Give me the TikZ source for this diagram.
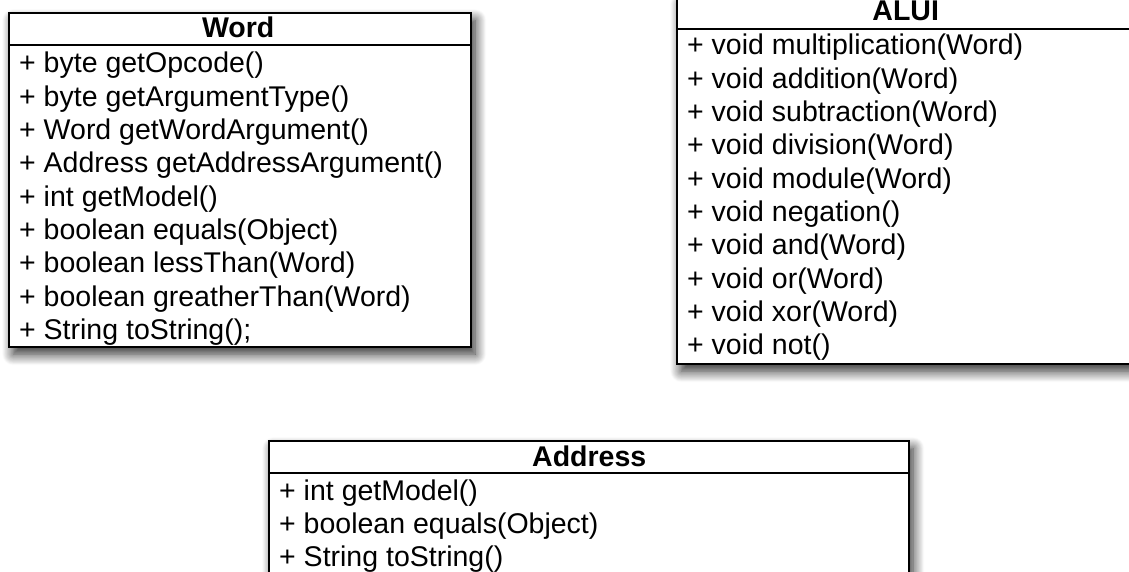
\documentclass[tikz,border=0pt]{standalone}
\usepackage{fontspec}
\setmainfont{Liberation Sans}
\usetikzlibrary{shadows.blur,calc}

\tikzset{
  umlbox/.style={draw=black, line width=2.4pt, fill=white, rectangle, inner sep=0pt,
    anchor=north west,
    blur shadow={shadow xshift=4pt, shadow yshift=-7pt, shadow blur radius=11pt,
      shadow blur steps=14, shadow opacity=85}},
  sepline/.style={draw=black, line width=2.2pt},
  headtext/.style={font=\fontsize{28.5}{33}\selectfont\bfseries, anchor=base, inner sep=0pt},
  membertext/.style={font=\fontsize{28.5}{33}\selectfont, anchor=base west, inner sep=0pt},
}

\begin{document}
\begin{tikzpicture}[x=1pt,y=-1pt]
\useasboundingbox (0,0) rectangle (1129,572);

% ---------- class Word ----------
\node[umlbox, minimum width=462pt, minimum height=334pt] (word) at (8,12) {};
\draw[sepline] ($(word.north west)+(0,33)$) -- ($(word.north east)+(0,33)$);
\node[headtext] (wordhead) at ($(word.north)+(-2,26)$) {Word};
\foreach \t [count=\i] in {
  + byte getOpcode(),
  + byte getArgumentType(),
  + Word getWordArgument(),
  + Address getAddressArgument(),
  + int getModel(),
  + boolean equals(Object),
  + boolean lessThan(Word),
  + boolean greatherThan(Word),
  + String toString();}
  \node[membertext] (word-\i) at ($(word.north west)+(11,{61+(\i-1)*33.3})$) {\t};

% ---------- class ALUI ----------
\node[umlbox, minimum width=459pt, minimum height=367pt] (alui) at (676,-4) {};
\draw[sepline] ($(alui.north west)+(0,33)$) -- ($(alui.north east)+(0,33)$);
\node[headtext] (aluihead) at ($(alui.north)+(-1,25)$) {ALUI};
\foreach \t [count=\i] in {
  + void multiplication(Word),
  + void addition(Word),
  + void subtraction(Word),
  + void division(Word),
  + void module(Word),
  + void negation(),
  + void and(Word),
  + void or(Word),
  + void xor(Word),
  + void not()}
  \node[membertext] (alui-\i) at ($(alui.north west)+(11,{59+(\i-1)*33.3})$) {\t};

% ---------- class Address ----------
\node[umlbox, minimum width=640pt, minimum height=160pt] (address) at (268,440) {};
\draw[sepline] ($(address.north west)+(0,33)$) -- ($(address.north east)+(0,33)$);
\node[headtext] (addresshead) at ($(address.north)+(0,26)$) {Address};
\foreach \t [count=\i] in {
  + int getModel(),
  + boolean equals(Object),
  + String toString()}
  \node[membertext] (address-\i) at ($(address.north west)+(11,{60+(\i-1)*33.3})$) {\t};
\end{tikzpicture}
\end{document}
